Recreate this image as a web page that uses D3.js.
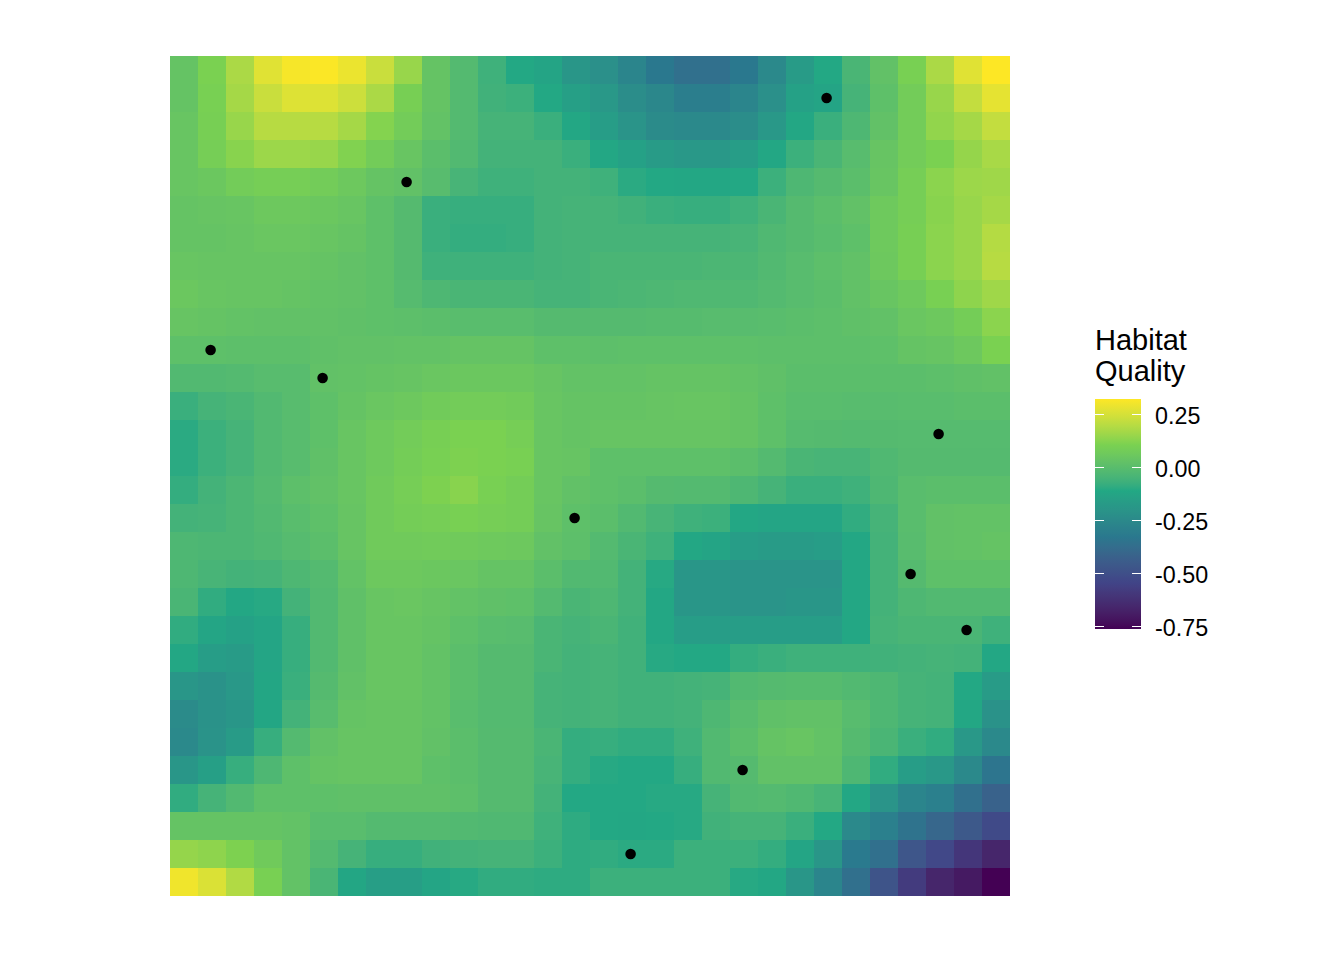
<!DOCTYPE html>
<html>
<head>
<meta charset="utf-8">
<script src="https://cdn.jsdelivr.net/npm/d3@7"></script>
<style>
  html, body { margin: 0; padding: 0; background: #fff; }
  svg { display: block; font-family: "Liberation Sans", Arial, sans-serif; }
</style>
</head>
<body>
<div id="chart"></div>
<script>
// habitat quality per grid cell, top row first
const quality = [
  [.035,.105,.18,.27,.31,.32,.29,.23,.15,.035,-.015,-.065,-.11,-.13,-.19,-.22,-.27,-.33,-.36,-.36,-.33,-.25,-.17,-.11,-.04,.025,.10,.18,.27,.323],
  [.035,.10,.17,.23,.265,.265,.235,.18,.095,.035,-.015,-.06,-.07,-.11,-.15,-.18,-.23,-.26,-.30,-.30,-.27,-.22,-.14,-.13,-.05,.015,.08,.15,.22,.28],
  [.045,.095,.15,.20,.20,.20,.17,.12,.08,.03,-.015,-.05,-.05,-.075,-.115,-.16,-.20,-.24,-.25,-.25,-.23,-.18,-.115,-.075,-.03,.025,.08,.14,.17,.22],
  [.045,.09,.125,.155,.155,.15,.115,.08,.045,.005,-.02,-.055,-.055,-.055,-.075,-.115,-.14,-.17,-.18,-.18,-.16,-.115,-.07,-.04,-.005,.04,.08,.105,.145,.175],
  [.045,.055,.08,.09,.09,.08,.06,.035,.025,-.005,-.045,-.065,-.065,-.055,-.055,-.065,-.10,-.11,-.115,-.115,-.11,-.07,-.03,-.012,.005,.045,.09,.13,.155,.16],
  [.035,.04,.045,.06,.06,.055,.045,.015,-.012,-.075,-.08,-.08,-.08,-.055,-.05,-.05,-.06,-.075,-.08,-.08,-.065,-.04,-.012,.005,.025,.065,.09,.125,.15,.17],
  [.035,.035,.04,.05,.05,.045,.035,.015,-.012,-.075,-.085,-.085,-.08,-.055,-.05,-.05,-.05,-.05,-.05,-.05,-.045,-.025,-.012,0,.015,.065,.095,.13,.15,.195],
  [.045,.04,.04,.04,.04,.035,.025,.015,-.012,-.065,-.065,-.065,-.065,-.055,-.05,-.04,-.04,-.04,-.04,-.035,-.035,-.02,-.005,.01,.025,.06,.095,.13,.15,.20],
  [.055,.045,.04,.04,.035,.03,.025,.015,-.01,-.03,-.04,-.04,-.04,-.05,-.05,-.04,-.035,-.03,-.025,-.025,-.025,-.015,-.005,.005,.025,.045,.065,.10,.135,.16],
  [.04,.035,.03,.025,.025,.025,.02,.015,.01,.005,0,0,0,-.012,-.012,-.012,-.012,-.008,-.008,-.005,-.005,0,.005,.01,.02,.025,.05,.06,.085,.13],
  [.015,.015,.01,.01,.01,.02,.025,.025,.03,.03,.035,.035,.035,.015,.015,.01,.015,.015,.015,.015,.015,.01,.01,.01,.01,.015,.035,.04,.06,.105],
  [-.02,-.02,-.015,-.005,-.005,.025,.03,.035,.04,.05,.055,.055,.055,.04,.03,.03,.03,.035,.035,.035,.03,.02,.005,.005,.005,.005,.005,.01,.02,.025],
  [-.075,-.05,-.04,-.02,-.005,.015,.035,.05,.06,.075,.08,.08,.075,.045,.035,.035,.035,.04,.045,.045,.035,.015,0,0,-.005,-.005,0,0,.005,.005],
  [-.10,-.07,-.05,-.02,-.005,.015,.045,.065,.08,.095,.105,.105,.09,.045,.035,.04,.04,.04,.04,.04,.035,.015,-.01,-.012,-.015,-.012,-.01,-.01,-.01,-.01],
  [-.10,-.07,-.05,-.02,-.005,.02,.045,.065,.085,.10,.11,.105,.10,.045,.04,.015,.015,.015,.015,.015,.005,-.015,-.04,-.045,-.045,-.025,-.012,-.012,-.012,-.012],
  [-.085,-.055,-.035,-.015,.01,.025,.045,.07,.09,.11,.125,.10,.085,.045,.025,.015,.005,-.012,-.015,-.015,-.03,-.05,-.075,-.075,-.065,-.03,0,.005,.005,.005],
  [-.055,-.05,-.035,-.02,0,.015,.04,.07,.085,.09,.10,.09,.085,.04,.015,.005,-.02,-.045,-.065,-.07,-.115,-.125,-.125,-.125,-.09,-.05,0,.025,.03,.03],
  [-.03,-.035,-.035,-.025,-.01,.005,.04,.07,.07,.075,.07,.065,.06,.025,.01,-.015,-.04,-.065,-.115,-.13,-.16,-.17,-.17,-.16,-.115,-.055,-.005,.025,.03,.035],
  [-.03,-.045,-.055,-.05,-.03,-.015,.03,.06,.06,.055,.05,.035,.035,.005,-.02,-.02,-.055,-.105,-.19,-.19,-.20,-.20,-.20,-.20,-.115,-.055,-.012,.015,.015,.015],
  [-.04,-.09,-.115,-.105,-.055,-.02,.02,.045,.05,.04,.03,.02,.015,-.015,-.04,-.03,-.055,-.115,-.19,-.19,-.20,-.20,-.19,-.19,-.115,-.055,-.03,-.02,-.02,-.02],
  [-.09,-.125,-.14,-.125,-.08,-.02,.02,.045,.045,.035,.015,0,-.005,-.04,-.05,-.04,-.06,-.115,-.16,-.16,-.16,-.16,-.16,-.16,-.115,-.05,-.04,-.04,-.04,-.065],
  [-.115,-.16,-.17,-.125,-.08,-.02,.02,.045,.045,.03,.005,-.012,-.012,-.04,-.055,-.05,-.06,-.105,-.11,-.11,-.085,-.075,-.065,-.065,-.065,-.06,-.055,-.05,-.055,-.115],
  [-.19,-.21,-.18,-.12,-.075,-.012,.025,.045,.045,.03,.005,-.012,-.012,-.05,-.055,-.05,-.06,-.06,-.055,-.05,-.02,-.012,-.008,-.008,-.02,-.03,-.05,-.055,-.11,-.17],
  [-.24,-.21,-.19,-.12,-.055,-.005,.035,.04,.04,.03,0,-.015,-.015,-.05,-.055,-.05,-.06,-.06,-.055,-.03,-.005,.02,.025,.025,-.005,-.03,-.05,-.055,-.115,-.21],
  [-.25,-.205,-.17,-.08,-.015,.025,.04,.04,.04,.025,.005,-.012,-.012,-.04,-.085,-.08,-.09,-.09,-.065,-.02,.005,.035,.045,.03,-.012,-.04,-.075,-.09,-.18,-.25],
  [-.19,-.15,-.08,-.03,.015,.035,.04,.04,.04,.015,.005,-.012,-.012,-.045,-.085,-.105,-.11,-.11,-.08,-.02,-.012,.025,.025,.025,-.03,-.09,-.16,-.18,-.25,-.34],
  [-.09,-.05,-.02,.015,.015,.015,.02,.02,.02,.02,.01,-.012,-.012,-.055,-.11,-.11,-.11,-.105,-.105,-.05,-.02,-.015,-.025,-.045,-.115,-.20,-.27,-.29,-.36,-.42],
  [.035,.035,.035,.035,.03,0,0,-.015,-.015,-.015,-.02,-.025,-.025,-.065,-.095,-.11,-.115,-.11,-.105,-.06,-.05,-.05,-.075,-.11,-.25,-.29,-.35,-.40,-.46,-.52],
  [.145,.135,.11,.07,.03,-.015,-.05,-.08,-.08,-.06,-.055,-.05,-.05,-.07,-.095,-.09,-.10,-.10,-.07,-.07,-.07,-.085,-.125,-.19,-.32,-.36,-.47,-.53,-.60,-.66],
  [.30,.26,.19,.10,.03,-.04,-.12,-.155,-.155,-.125,-.105,-.09,-.09,-.095,-.095,-.07,-.07,-.07,-.07,-.07,-.105,-.115,-.19,-.27,-.36,-.48,-.58,-.66,-.70,-.762]
];

// survey points, in grid units
const pointX = [23.45, 8.45, 1.45, 5.45, 27.45, 14.45, 26.45, 28.45, 20.45, 16.45];
const pointY = [1.5, 4.5, 10.5, 11.5, 13.5, 16.5, 18.5, 20.5, 25.5, 28.5];

const legendTicks = [0.25, 0, -0.25, -0.5, -0.75];
const legendLabels = ["0.25", "0.00", "-0.25", "-0.50", "-0.75"];
const legendTitle = ["Habitat", "Quality"];
const qualityRange = [-0.762, 0.323];
const viridisStops = ["#440154", "#414487", "#2A788E", "#22A884", "#7AD151", "#FDE725"];

const svg = d3.select("#chart").append("svg")
  .attr("width", 1344)
  .attr("height", 960);

// same 6 colour lab ramp as ggplot's viridis_c
const colorPos = d3.scaleLinear().domain([0, 5]).range(qualityRange);
const color = d3.scaleLinear()
  .domain(viridisStops.map((c, i) => colorPos(i)))
  .range(viridisStops)
  .interpolate(d3.interpolateLab);

const x = d3.scaleLinear().domain([0, 30]).range([170, 1010]);
const y = d3.scaleLinear().domain([0, 30]).range([56, 896]);

const rows = svg.append("g").selectAll("g")
  .data(quality)
  .join("g");

rows.selectAll("rect")
  .data((d, i) => d.map((v, j) => ({ v: v, col: j, row: i })))
  .join("rect")
  .attr("x", d => x(d.col))
  .attr("y", d => y(d.row))
  .attr("width", d => x(d.col + 1) - x(d.col))
  .attr("height", d => y(d.row + 1) - y(d.row))
  .attr("shape-rendering", "crispEdges")
  .attr("fill", d => color(d.v));

svg.append("g").selectAll("circle")
  .data(pointX)
  .join("circle")
  .attr("cx", d => x(d))
  .attr("cy", (d, i) => y(pointY[i]))
  .attr("r", 5.3)
  .attr("fill", "#000");

// legend
const legendY = d3.scaleLinear().domain(qualityRange).range([629, 399]);
const gradient = svg.append("defs").append("linearGradient")
  .attr("id", "bar")
  .attr("x1", 0).attr("x2", 0).attr("y1", 1).attr("y2", 0);
gradient.selectAll("stop")
  .data(d3.range(0, 1.0001, 0.02))
  .join("stop")
  .attr("offset", d => d)
  .attr("stop-color", d => color(qualityRange[0] + d * (qualityRange[1] - qualityRange[0])));

svg.append("rect")
  .attr("x", 1095)
  .attr("y", 399)
  .attr("width", 46)
  .attr("height", 230)
  .attr("fill", "url(#bar)");

const tickG = svg.append("g").selectAll("g")
  .data(legendTicks)
  .join("g")
  .attr("transform", d => `translate(0,${Math.round(legendY(d)) + 0.5})`);

tickG.append("line").attr("x1", 1095).attr("x2", 1104).attr("stroke", "#fff").attr("stroke-width", 1);
tickG.append("line").attr("x1", 1132).attr("x2", 1141).attr("stroke", "#fff").attr("stroke-width", 1);
tickG.append("text")
  .attr("x", 1155)
  .attr("y", 1)
  .attr("dy", "0.36em")
  .attr("font-size", 23.3)
  .attr("fill", "#000")
  .text((d, i) => legendLabels[i]);

svg.append("g").selectAll("text")
  .data(legendTitle)
  .join("text")
  .attr("x", 1095)
  .attr("y", (d, i) => 350 + i * 31)
  .attr("font-size", 29)
  .attr("fill", "#000")
  .text(d => d);
</script>
</body>
</html>
